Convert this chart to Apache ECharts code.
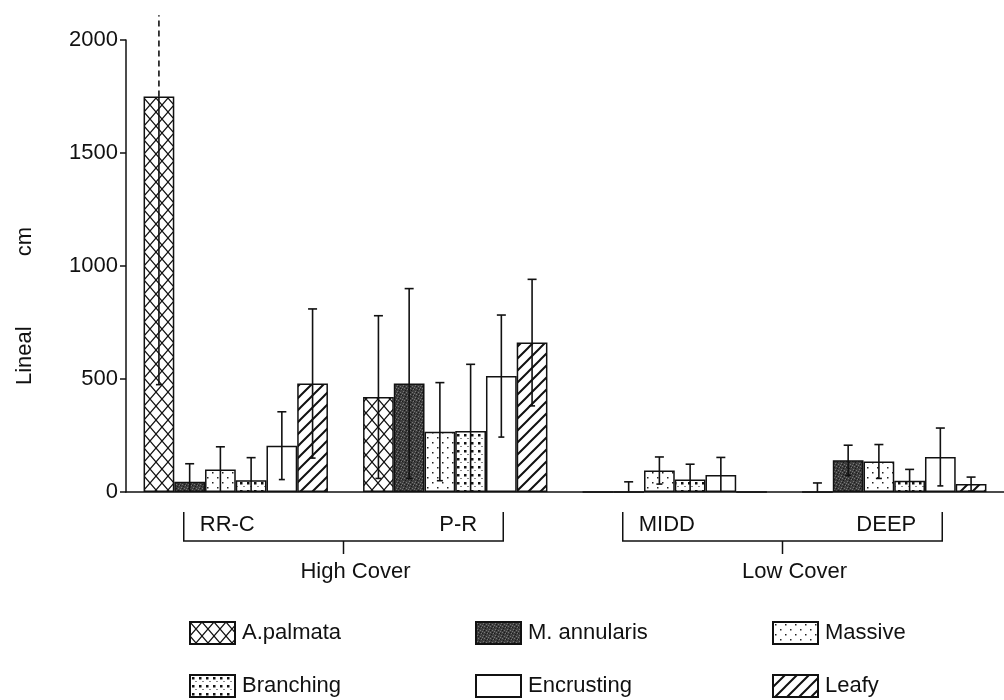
<!DOCTYPE html>
<html>
<head>
<meta charset="utf-8">
<title>Lineal cm by site and growth form</title>
<script src="https://cdn.jsdelivr.net/npm/echarts@6/dist/echarts.min.js"></script>
<style>
    html, body {
        width: 100%;
        height: 100%;
        margin: 0;
        background: #ffffff;
    }
    #main {
        width: 1004px;
        height: 700px;
    }
</style>
</head>
<body>
<div id="main"></div>
<script type="text/javascript">
// sites along the x axis, grouped by cover
var sites = ['RR-C', 'P-R', 'MIDD', 'DEEP'];
var covers = ['High Cover', 'Low Cover'];
var coverSites = [[0, 1], [2, 3]];
var species = ['A.palmata', 'M. annularis', 'Massive', 'Branching', 'Encrusting', 'Leafy'];

// means (lineal cm), one value per site
var palmata    = [1750, 420, 0, 0];
var annularis  = [45, 480, 0, 140];
var massive    = [100, 267, 95, 135];
var branching  = [52, 270, 55, 50];
var encrusting = [205, 513, 75, 155];
var leafy      = [480, 661, 0, 35];

// standard deviations, one value per site
var palmataSd    = [1275, 360, 0, 40];
var annularisSd  = [80, 420, 45, 67];
var massiveSd    = [100, 217, 60, 75];
var branchingSd  = [100, 295, 68, 50];
var encrustingSd = [150, 270, 78, 128];
var leafySd      = [330, 280, 0, 31];

var yTicks = [0, 500, 1000, 1500, 2000];
var brokenTop = 2110;   // where the dashed (off-scale) error line stops

var means = [palmata, annularis, massive, branching, encrusting, leafy];
var sds = [palmataSd, annularisSd, massiveSd, branchingSd, encrustingSd, leafySd];
var GAP = 0.16;
var FONT = "'Liberation Sans', Arial, sans-serif";

function tile(w, h, draw) {
    var c = document.createElement('canvas');
    c.width = w;
    c.height = h;
    var ctx = c.getContext('2d');
    ctx.fillStyle = '#ffffff';
    ctx.fillRect(0, 0, w, h);
    draw(ctx);
    return { image: c, repeat: 'repeat' };
}

var fills = [
    // cross hatch
    tile(12, 14, function (ctx) {
        ctx.strokeStyle = '#111';
        ctx.lineWidth = 1.2;
        ctx.beginPath();
        ctx.moveTo(0, 0); ctx.lineTo(12, 14);
        ctx.moveTo(12, 0); ctx.lineTo(0, 14);
        ctx.stroke();
    }),
    // dark stipple
    tile(6, 6, function (ctx) {
        ctx.fillStyle = '#3e3e3e';
        ctx.fillRect(0, 0, 6, 6);
        ctx.fillStyle = '#777';
        [[1, 1], [4, 2], [2, 4], [5, 5], [0, 3]].forEach(function (p) { ctx.fillRect(p[0], p[1], 1, 1); });
        ctx.fillStyle = '#1a1a1a';
        [[3, 0], [0, 5], [4, 4], [2, 2]].forEach(function (p) { ctx.fillRect(p[0], p[1], 1, 1); });
    }),
    // sparse dots
    tile(10, 10, function (ctx) {
        ctx.fillStyle = '#222';
        ctx.fillRect(2, 2, 1.5, 1.5);
        ctx.fillRect(7, 7, 1.5, 1.5);
    }),
    // bold dots
    tile(7, 8, function (ctx) {
        ctx.fillStyle = '#111';
        ctx.fillRect(2, 2, 2.5, 2.5);
        ctx.fillRect(5.5, 6, 1, 1);
    }),
    '#ffffff',
    // diagonal stripes
    tile(12, 12, function (ctx) {
        ctx.strokeStyle = '#111';
        ctx.lineWidth = 2;
        ctx.beginPath();
        ctx.moveTo(0, 12); ctx.lineTo(12, 0);
        ctx.moveTo(-3, 3); ctx.lineTo(3, -3);
        ctx.moveTo(9, 15); ctx.lineTo(15, 9);
        ctx.stroke();
    })
];

var errData = [];
species.forEach(function (name, s) {
    sites.forEach(function (site, i) {
        errData.push([i, s, means[s][i], sds[s][i]]);
    });
});

function renderErr(params, api) {
    var site = api.value(0), sp = api.value(1), mean = api.value(2), sd = api.value(3);
    if (!sd) return;
    var band = api.size([1, 0])[0];
    var bw = band * (1 - GAP) / species.length;
    var cx = api.coord([site, 0])[0] + (sp - (species.length - 1) / 2) * bw;
    var lo = Math.max(0, mean - sd);
    var hi = mean + sd;
    var yLo = api.coord([site, lo])[1];
    var yMean = api.coord([site, mean])[1];
    var st = { stroke: '#111', lineWidth: 1.6 };
    var kids = [];
    if (hi > yTicks[yTicks.length - 1]) {
        var yTop = api.coord([site, brokenTop])[1];
        kids.push({ type: 'line', shape: { x1: cx, y1: yLo, x2: cx, y2: yMean }, style: st });
        kids.push({ type: 'line', shape: { x1: cx, y1: yMean, x2: cx, y2: yTop },
            style: { stroke: '#111', lineWidth: 1.6, lineDash: [6, 4] } });
    } else {
        var yHi = api.coord([site, hi])[1];
        kids.push({ type: 'line', shape: { x1: cx, y1: yLo, x2: cx, y2: yHi }, style: st });
        kids.push({ type: 'line', shape: { x1: cx - 4.5, y1: yHi, x2: cx + 4.5, y2: yHi }, style: st });
    }
    if (lo > 0) {
        kids.push({ type: 'line', shape: { x1: cx - 3, y1: yLo, x2: cx + 3, y2: yLo }, style: st });
    }
    return { type: 'group', children: kids };
}

function renderBracket(params, api) {
    var a = api.value(0), b = api.value(1), c = api.value(2);
    var pa = api.coord([a, 0]);
    var xb = api.coord([b, 0])[0];
    var y0 = pa[1];
    var left = pa[0] - 52, right = xb + 48, mid = (left + right) / 2;
    var st = { stroke: '#111', lineWidth: 1.5, fill: null };
    return {
        type: 'group',
        children: [
            { type: 'polyline', shape: { points: [[left, y0 + 20], [left, y0 + 49], [right, y0 + 49], [right, y0 + 20]] }, style: st },
            { type: 'line', shape: { x1: mid, y1: y0 + 49, x2: mid, y2: y0 + 62 }, style: st },
            { type: 'text', style: { text: sites[a], x: pa[0] - 36, y: y0 + 44, fill: '#111',
                font: '22px ' + FONT, align: 'left', verticalAlign: 'bottom' } },
            { type: 'text', style: { text: sites[b], x: xb + 22, y: y0 + 44, fill: '#111',
                font: '22px ' + FONT, align: 'right', verticalAlign: 'bottom' } },
            { type: 'text', style: { text: covers[c], x: mid + 12, y: y0 + 80, fill: '#111',
                font: '22px ' + FONT, align: 'center', verticalAlign: 'middle' } }
        ]
    };
}

var series = species.map(function (name, s) {
    return {
        name: name,
        type: 'bar',
        data: means[s],
        barGap: '0%',
        barCategoryGap: (GAP * 100) + '%',
        itemStyle: { color: fills[s], borderColor: '#111', borderWidth: 1.5 }
    };
});
series.push({
    type: 'custom',
    renderItem: renderErr,
    data: errData,
    clip: false,
    z: 5
});
series.push({
    type: 'custom',
    renderItem: renderBracket,
    data: coverSites.map(function (p, c) { return [p[0], p[1], c]; }),
    clip: false,
    z: 5
});

// legend: three columns, two rows
var legendLeft = [184, 470, 767];
var legendTop = [616, 669];
var legends = species.map(function (name, s) {
    return {
        left: legendLeft[s % 3],
        top: legendTop[Math.floor(s / 3)],
        itemWidth: 45,
        itemHeight: 22,
        icon: 'rect',
        selectedMode: false,
        data: [name],
        textStyle: { fontSize: 22, color: '#111', fontFamily: FONT, padding: [0, 0, 0, 2] }
    };
});

var myChart = echarts.init(document.getElementById('main'));
myChart.setOption({
    animation: false,
    backgroundColor: '#ffffff',
    legend: legends,
    grid: { left: 126, right: -6, top: 40, bottom: 208 },
    xAxis: {
        type: 'category',
        data: sites,
        axisLine: { lineStyle: { color: '#111', width: 1.5 } },
        axisTick: { alignWithLabel: true, length: 12, lineStyle: { color: '#111', width: 1.5 } },
        axisLabel: { show: false }
    },
    yAxis: {
        type: 'value',
        min: yTicks[0],
        max: yTicks[yTicks.length - 1],
        interval: yTicks[1] - yTicks[0],
        name: '{a|Lineal}{b|cm}',
        nameLocation: 'middle',
        nameGap: 90,
        nameTextStyle: {
            padding: [0, 80, 0, 0],
            rich: {
                a: { fontSize: 22, color: '#111', fontFamily: FONT, padding: [0, 70, 0, 0] },
                b: { fontSize: 22, color: '#111', fontFamily: FONT }
            }
        },
        axisLine: { show: true, lineStyle: { color: '#111', width: 1.5 } },
        axisTick: { show: true, length: 6, lineStyle: { color: '#111', width: 1.5 } },
        axisLabel: {
            fontSize: 22, color: '#111', fontFamily: FONT, margin: 8,
            formatter: function (v) { return String(v); }
        },
        splitLine: { show: false }
    },
    series: series
});
</script>
</body>
</html>
